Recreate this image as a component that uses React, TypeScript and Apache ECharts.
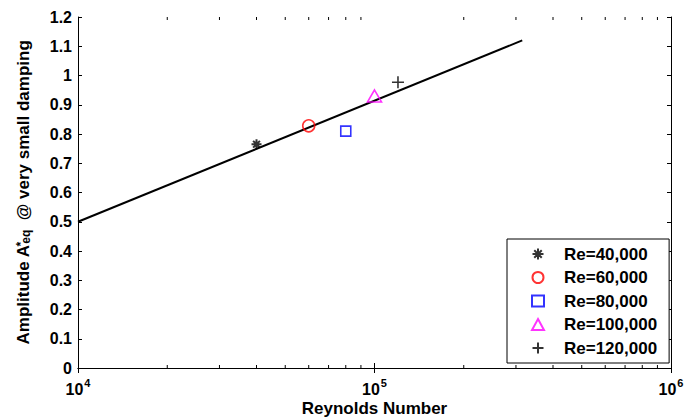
import React, { useEffect, useRef } from 'react';
import * as echarts from 'echarts';

const FONT = 'Arial, "Liberation Sans", Helvetica, sans-serif';

const legendNames = ['Re=40,000', 'Re=60,000', 'Re=80,000', 'Re=100,000', 'Re=120,000'];
const reynolds = [40000, 60000, 80000, 100000, 120000];
const amplitudes = [0.765, 0.828, 0.81, 0.93, 0.977];
const fitX = [10000, 315000];
const fitY = [0.5, 1.12];
const minorTicks = [20000, 30000, 40000, 50000, 60000, 70000, 80000, 90000,
  200000, 300000, 400000, 500000, 600000, 700000, 800000, 900000];

const ASTERISK = 'path://M0,5L10,5M5,0L5,10M1.6,1.6L8.4,8.4M8.4,1.6L1.6,8.4';
const PLUS = 'path://M0,5L10,5M5,0L5,10';

const markerSymbols = [ASTERISK, 'circle', 'rect', 'triangle', PLUS];
const markerSizes: any[] = [10, 12, 10, [14, 12], 12];
const markerColors = ['#000000', '#ff0000', '#0000ff', '#ff00ff', '#000000'];
const markerWidths = [2, 1.6, 1.6, 1.6, 1.6];

export default function App() {
  const ref = useRef<HTMLDivElement>(null);
  useEffect(() => {
    if (!ref.current) return;
    const chart = echarts.init(ref.current, null, { renderer: 'svg' });
    const axisLine = { show: true, lineStyle: { color: '#000', width: 1 } };
    const scatterSeries = legendNames.map((name, i) => ({
      name,
      type: 'scatter',
      symbol: markerSymbols[i],
      symbolSize: markerSizes[i],
      itemStyle: { color: 'rgba(0,0,0,0)', borderColor: markerColors[i], borderWidth: markerWidths[i] },
      data: [[reynolds[i], amplitudes[i]]],
      z: 5,
    }));
    chart.setOption({
      animation: false,
      backgroundColor: '#fff',
      grid: { left: 78, right: 25, top: 17, bottom: 52, outerBoundsMode: 'none', containLabel: false },
      legend: {
        data: legendNames,
        orient: 'vertical',
        left: 507,
        top: 239,
        itemWidth: 12,
        itemHeight: 11,
        itemGap: 5.5,
        padding: [6, 12, 6, 24],
        backgroundColor: '#fff',
        borderColor: '#000',
        borderWidth: 1,
        selectedMode: false,
        textStyle: { fontSize: 17, fontWeight: 'bold', color: '#000', fontFamily: FONT, lineHeight: 18, padding: [0, 0, 0, 15] },
      },
      xAxis: [
        {
          type: 'log',
          logBase: 10,
          min: 10000,
          max: 1000000,
          position: 'bottom',
          axisLine,
          axisTick: { show: true, inside: true, length: 5, lineStyle: { color: '#000' } },
          splitLine: { show: false },
          axisLabel: {
            margin: 9,
            fontSize: 16,
            fontWeight: 'bold',
            fontFamily: FONT,
            color: '#000',
            formatter: (v: number) => `{b|10}{s|${Math.round(Math.log10(v))}}`,
            rich: {
              b: { fontSize: 16, fontWeight: 'bold', fontFamily: FONT, color: '#000', lineHeight: 16, verticalAlign: 'bottom' },
              s: { fontSize: 11, fontWeight: 'bold', fontFamily: FONT, color: '#000', lineHeight: 20, padding: [0, 0, 8, 1], verticalAlign: 'top' },
            },
          },
          name: 'Reynolds Number',
          nameLocation: 'middle',
          nameGap: 31,
          nameMoveOverlap: false,
          nameTextStyle: { fontSize: 17, fontWeight: 'bold', color: '#000', fontFamily: FONT, lineHeight: 18 },
        },
        {
          type: 'log',
          logBase: 10,
          min: 10000,
          max: 1000000,
          position: 'top',
          axisLine,
          axisTick: { show: true, inside: true, length: 5, lineStyle: { color: '#000' } },
          axisLabel: { show: false },
          splitLine: { show: false },
        },
      ],
      yAxis: [
        {
          type: 'value',
          min: 0,
          max: 1.2,
          interval: 0.1,
          position: 'left',
          axisLine,
          axisTick: { show: true, inside: true, length: 4, lineStyle: { color: '#000' } },
          splitLine: { show: false },
          axisLabel: {
            margin: 6,
            fontSize: 16,
            fontWeight: 'bold',
            color: '#000',
            fontFamily: FONT,
            formatter: (v: number) => String(Math.round(v * 10) / 10),
          },
          name: 'Amplitude A{sup|*}{sub|eq}  @ very small damping',
          nameLocation: 'middle',
          nameGap: 46,
          nameMoveOverlap: false,
          nameTextStyle: {
            fontSize: 17,
            fontWeight: 'bold',
            color: '#000',
            fontFamily: FONT,
            rich: {
              sup: { fontSize: 12, fontWeight: 'bold', fontFamily: FONT, color: '#000', lineHeight: 12, padding: [0, 0, 12, 0], verticalAlign: 'top', width: 1 },
              sub: { fontSize: 12, fontWeight: 'bold', fontFamily: FONT, color: '#000', lineHeight: 12, padding: [12, 0, 0, 0], verticalAlign: 'bottom' },
            },
          },
        },
        {
          type: 'value',
          min: 0,
          max: 1.2,
          interval: 0.1,
          position: 'right',
          axisLine,
          axisTick: { show: true, inside: true, length: 4, lineStyle: { color: '#000' } },
          axisLabel: { show: false },
          splitLine: { show: false },
        },
      ],
      series: [
        {
          name: 'fit',
          type: 'line',
          data: fitX.map((x, i) => [x, fitY[i]]),
          symbol: 'none',
          lineStyle: { color: '#000', width: 2 },
          z: 3,
        },
        {
          name: 'minorTicks',
          type: 'custom',
          silent: true,
          clip: false,
          data: minorTicks.map((v) => [v, 0]),
          encode: { x: 0, y: 1 },
          renderItem: (params: any, api: any) => {
            const x = api.coord([api.value(0), 0])[0];
            const cs = params.coordSys;
            const style = { stroke: '#000', lineWidth: 1 };
            return {
              type: 'group',
              children: [
                { type: 'line', shape: { x1: x, y1: cs.y + cs.height, x2: x, y2: cs.y + cs.height - 3 }, style },
                { type: 'line', shape: { x1: x, y1: cs.y, x2: x, y2: cs.y + 3 }, style },
              ],
            };
          },
        },
        ...scatterSeries,
      ],
    });
    return () => chart.dispose();
  }, []);
  return <div ref={ref} style={{ width: 696, height: 420, position: 'absolute', left: 0, top: 0 }} />;
}
